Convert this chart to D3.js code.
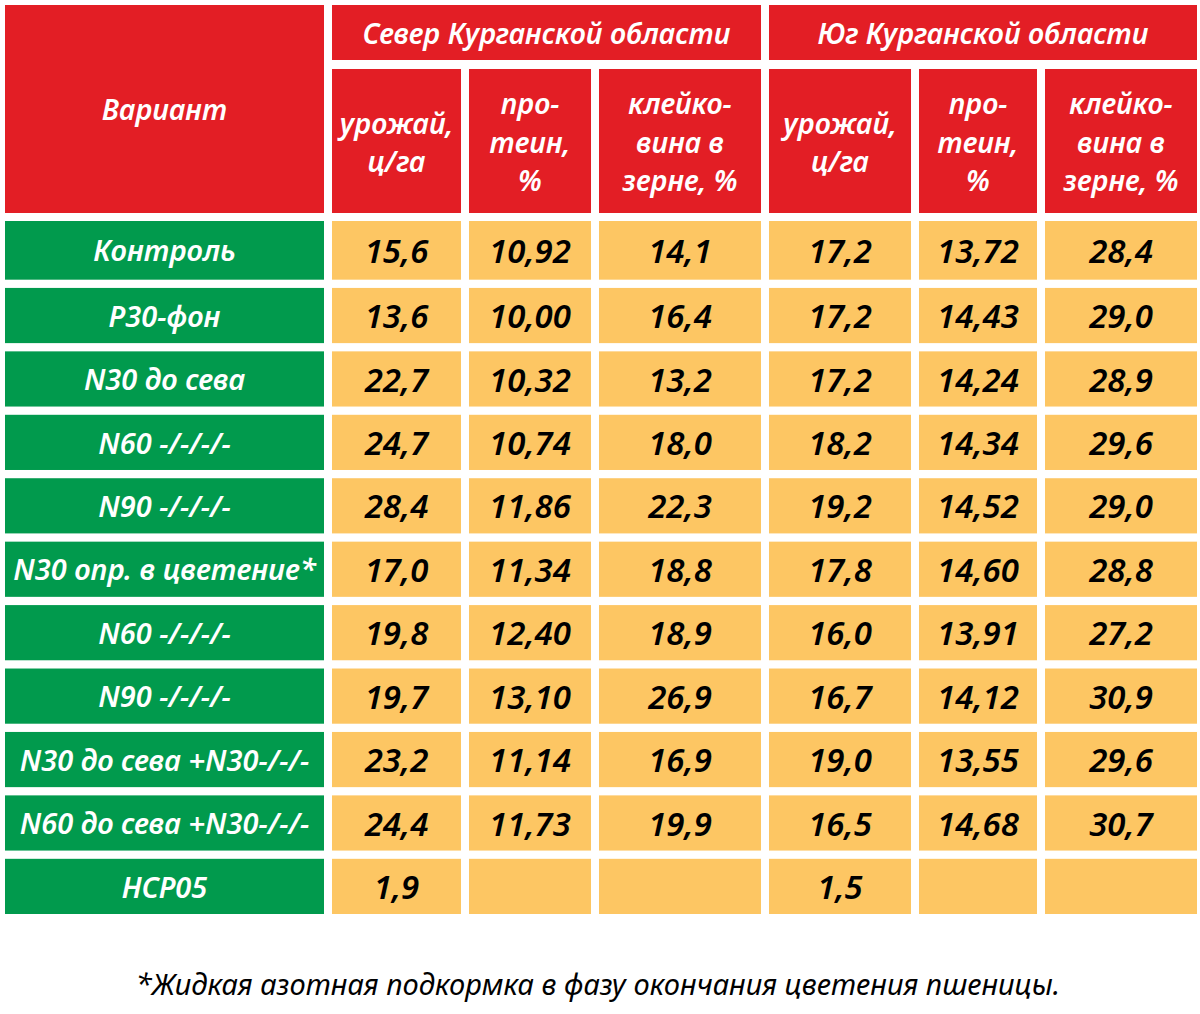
<!DOCTYPE html>
<html><head><meta charset="utf-8">
<script src="https://cdn.jsdelivr.net/npm/d3@7"></script>
<style>
html,body{margin:0;padding:0;background:#fff;}
svg{display:block;}
text{font-family:"Noto Sans",sans-serif;font-style:italic;}
</style></head>
<body>
<svg id="chart" width="1200" height="1014"></svg>
<script>
// ---- data ----
const variants = ["Контроль","Р30-фон","N30 до сева","N60 -/-/-/-","N90 -/-/-/-","N30 опр. в цветение*","N60 -/-/-/-","N90 -/-/-/-","N30 до сева +N30-/-/-","N60 до сева +N30-/-/-","НСР05"];
const regions = ["Север Курганской области","Юг Курганской области"];
const measures = [["урожай,","ц/га"],["про-","теин,","%"],["клейко-","вина в","зерне, %"]];
const measureDecimals = [1,2,1];
const northYield   = [15.6,13.6,22.7,24.7,28.4,17.0,19.8,19.7,23.2,24.4,1.9];
const northProtein = [10.92,10.00,10.32,10.74,11.86,11.34,12.40,13.10,11.14,11.73,null];
const northGluten  = [14.1,16.4,13.2,18.0,22.3,18.8,18.9,26.9,16.9,19.9,null];
const southYield   = [17.2,17.2,17.2,18.2,19.2,17.8,16.0,16.7,19.0,16.5,1.5];
const southProtein = [13.72,14.43,14.24,14.34,14.52,14.60,13.91,14.12,13.55,14.68,null];
const southGluten  = [28.4,29.0,28.9,29.6,29.0,28.8,27.2,30.9,29.6,30.7,null];
const headerVariant = "Вариант";
const footnote = "*Жидкая азотная подкормка в фазу окончания цветения пшеницы.";

const seriesCols = [northYield,northProtein,northGluten,southYield,southProtein,southGluten];

// ---- layout ----
const RED="#e31e25", GREEN="#019a4d", ORANGE="#fdc663";
const colEdges = [[5,324],[332,461],[469,591],[599,761],[769,911],[919,1037],[1045,1197]];
const locale = d3.formatLocale({decimal:",",thousands:" ",grouping:[3],currency:["",""]});

const svg = d3.select("#chart");

// row scale
const y = d3.scaleBand().domain(d3.range(variants.length)).range([224.5, 914]).paddingInner(0.13).paddingOuter(0);
const rowTop = i => y(i) - (i===0 ? 3.5 : 0);
const rowH = i => y.bandwidth() + (i===0 ? 3.5 : 0);
const rowMid = i => rowTop(i) + rowH(i)/2;

// header
const g = svg.append("g");
g.append("rect").attr("x",5).attr("y",5).attr("width",319).attr("height",208).attr("fill",RED);
g.append("text").attr("x",164.5).attr("y",110.5).attr("dy","0.35em").attr("text-anchor","middle")
  .attr("fill","#fff").attr("font-size",28.5).attr("font-weight",600).text(headerVariant);

regions.forEach((r,i)=>{
  const x0 = colEdges[1+3*i][0], x1 = colEdges[3+3*i][1];
  g.append("rect").attr("x",x0).attr("y",5).attr("width",x1-x0).attr("height",55).attr("fill",RED);
  g.append("text").attr("x",(x0+x1)/2).attr("y",34).attr("dy","0.35em").attr("text-anchor","middle")
    .attr("fill","#fff").attr("font-size",28.5).attr("font-weight",600).text(r);
  measures.forEach((m,j)=>{
    const [a,b] = colEdges[1+3*i+j];
    g.append("rect").attr("x",a).attr("y",69).attr("width",b-a).attr("height",144).attr("fill",RED);
    const lh = 38.5;
    const t = g.append("text").attr("text-anchor","middle").attr("fill","#fff")
      .attr("font-size",28.5).attr("font-weight",600);
    m.forEach((line,k)=>{
      t.append("tspan").attr("x",(a+b)/2)
        .attr("y",143 + (k-(m.length-1)/2)*lh).attr("dy","0.35em").text(line);
    });
  });
});

// body rows
const rows = svg.append("g").selectAll("g").data(variants).join("g");
rows.append("rect").attr("x",colEdges[0][0]).attr("y",(d,i)=>rowTop(i))
  .attr("width",colEdges[0][1]-colEdges[0][0]).attr("height",(d,i)=>rowH(i)).attr("fill",GREEN);
rows.append("text").attr("x",(colEdges[0][0]+colEdges[0][1])/2).attr("y",(d,i)=>rowMid(i)+1)
  .attr("dy","0.35em").attr("text-anchor","middle").attr("fill","#fff")
  .attr("font-size",29).attr("font-weight",600).text(d=>d);

seriesCols.forEach((vals,c)=>{
  const [a,b] = colEdges[c+1];
  const fmt = locale.format("."+measureDecimals[c%3]+"f");
  const cg = svg.append("g");
  cg.selectAll("rect").data(vals).join("rect")
    .attr("x",a).attr("y",(d,i)=>rowTop(i)).attr("width",b-a).attr("height",(d,i)=>rowH(i)).attr("fill",ORANGE);
  cg.selectAll("text").data(vals).join("text")
    .attr("x",(a+b)/2).attr("y",(d,i)=>rowMid(i)+1).attr("dy","0.35em")
    .attr("text-anchor","middle").attr("fill","#000").attr("font-size",33).attr("font-weight",600)
    .text(d=>d==null?"":fmt(d));
});

svg.append("text").attr("x",598).attr("y",985).attr("dy","0.35em").attr("text-anchor","middle")
  .attr("fill","#000").attr("font-size",29).attr("font-weight",400).text(footnote);
</script>
</body></html>
